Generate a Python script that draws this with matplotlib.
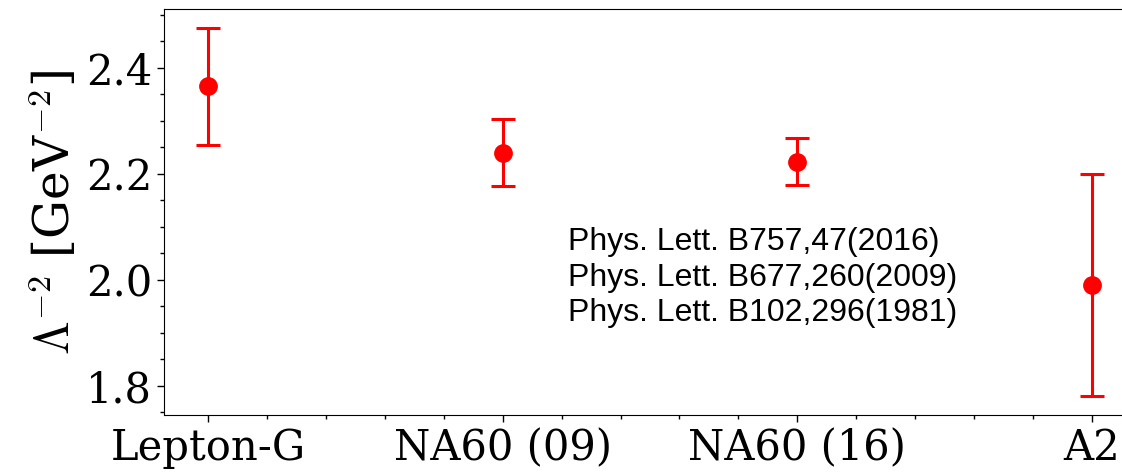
import matplotlib
matplotlib.use('Agg')
import matplotlib.pyplot as plt
from matplotlib.ticker import MultipleLocator

experiments = ['Lepton-G', 'NA60 (09)', 'NA60 (16)', 'A2']
lam2 = [2.365, 2.240, 2.223, 1.990]
lam2_err = [0.110, 0.063, 0.045, 0.210]
refs = ['Phys. Lett. B757,47(2016)',
        'Phys. Lett. B677,260(2009)',
        'Phys. Lett. B102,296(1981)']
ref_y = [2.056, 1.989, 1.922]

plt.rcParams['font.family'] = 'DejaVu Serif'
plt.rcParams['mathtext.fontset'] = 'cm'

fig = plt.figure(figsize=(11.22, 4.73), dpi=100)
ax = fig.add_axes([164/1122, 1 - 415/473, (1136 - 164)/1122, (415 - 9)/473])

x = list(range(len(experiments)))
ax.errorbar(x, lam2, yerr=lam2_err, fmt='o', color='red', ms=12.5,
            elinewidth=2.2, capsize=8.5, capthick=2.2)

for t, y in zip(refs, ref_y):
    ax.text(1.222, y, t, family='Liberation Sans', fontsize=23, va='baseline')

ax.set_xlim(-0.15, 3.15)
ax.set_ylim(1.745, 2.511)
ax.set_xticks(x)
ax.set_xticklabels(experiments)
ax.xaxis.set_minor_locator(MultipleLocator(0.2))
ax.yaxis.set_major_locator(MultipleLocator(0.2))
ax.yaxis.set_minor_locator(MultipleLocator(0.05))
ax.tick_params(which='major', length=5, width=1, labelsize=30)
ax.tick_params(which='minor', length=3, width=1)
ax.spines['right'].set_visible(False)
ax.set_ylabel(r'$\mathit{\Lambda}^{-2}$ [GeV$^{-2}$]', fontsize=35)

fig.savefig('out.png', dpi=100)
